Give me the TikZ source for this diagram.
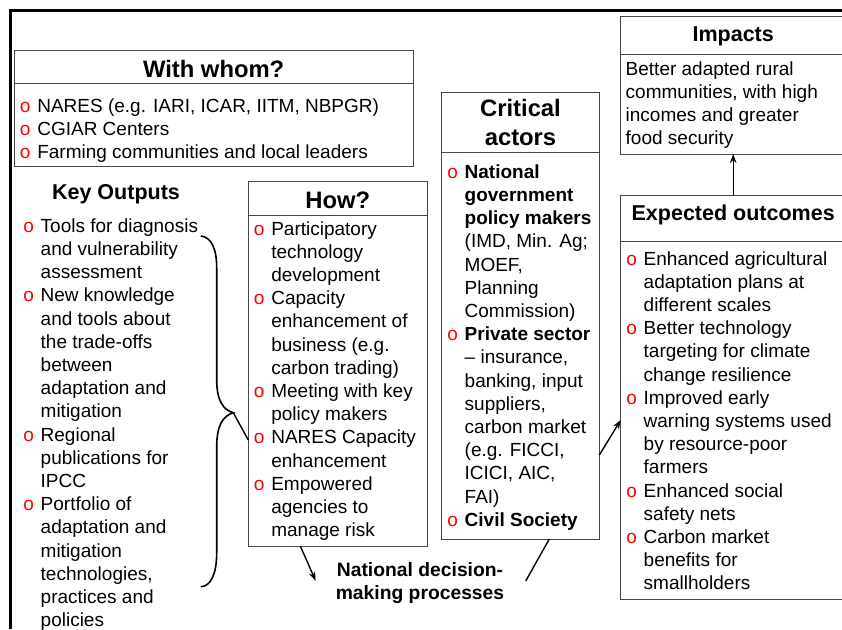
\documentclass[tikz,border=0pt]{standalone}
\usepackage{fontspec}
\setmainfont{Liberation Sans}
\usetikzlibrary{arrows.meta,positioning}

\definecolor{bulletred}{RGB}{255,0,0}
\definecolor{boxgray}{RGB}{70,70,70}
\newcommand{\bodyfont}{\fontsize{19}{23.2}\selectfont}
\newcommand{\oi}[1]{\par\noindent\hangindent=18pt\hangafter=1\strut\makebox[18pt][l]{\hspace{0.6pt}\textcolor{bulletred}{o}}#1\par}
\newcommand{\boxtext}[4]{\parbox[t][#1][t]{#2}{\bodyfont\raggedright\vspace*{#3}#4}}

\begin{document}
\begin{tikzpicture}[x=1pt, y=-1pt,
  boxline/.style={draw=boxgray, line width=0.8pt, inner sep=0pt, outer sep=0pt},
  headbox/.style={boxline, anchor=north west, align=center, font=\fontsize{23.8}{29.3}\selectfont\bfseries},
  bodybox/.style={boxline, anchor=north west, inner xsep=5pt, inner ysep=0pt},
  conn/.style={line width=1.4pt, >={Stealth[length=9pt,width=6.5pt]}}]
\useasboundingbox (0,0) rectangle (842,629);
% Slide frame
\draw[line width=2.3pt] (10.5,629) -- (10.5,10.5) -- (842,10.5);

% With whom?
\node[headbox, minimum width=398.7pt, minimum height=32.6pt, text height=21pt, text depth=0pt] (whomhead) at (14.3,50.7) {With whom?};
\node[bodybox] (whom) at (whomhead.south west) {\boxtext{83.4pt}{388.7pt}{12.5pt}{%
  \oi{NARES (e.g. IARI, ICAR, IITM, NBPGR)}
  \oi{CGIAR Centers}
  \oi{Farming communities and local leaders}}};

% Key Outputs
\node[font=\fontsize{21.5}{26}\selectfont\bfseries, anchor=base] (outputshead) at (116,199) {Key Outputs};
\node[anchor=north west, inner sep=0pt] (outputs) at (22.5,215.8) {\boxtext{410pt}{190pt}{0pt}{%
  \oi{Tools for diagnosis\newline and vulnerability\newline assessment}
  \oi{New knowledge\newline and tools about\newline the trade-offs\newline between\newline adaptation and\newline mitigation}
  \oi{Regional\newline publications for\newline IPCC}
  \oi{Portfolio of\newline adaptation and\newline mitigation\newline technologies,\newline practices and\newline policies}}};

% How?
\node[headbox, minimum width=179pt, minimum height=33.3pt, text height=19.3pt, text depth=0pt] (howhead) at (248.3,181.7) {How?};
\node[bodybox] (how) at (howhead.south west) {\boxtext{331pt}{169pt}{3.8pt}{%
  \oi{Participatory\newline technology\newline development}
  \oi{Capacity\newline enhancement of\newline business (e.g.\newline carbon trading)}
  \oi{Meeting with key\newline policy makers}
  \oi{NARES Capacity\newline enhancement}
  \oi{Empowered\newline agencies to\newline manage risk}}};

% Critical actors
\node[headbox, minimum width=157.6pt, minimum height=60pt] (actorshead) at (441.7,92.7) {Critical\\actors};
\node[bodybox] (actors) at (actorshead.south west) {\boxtext{386.3pt}{147.6pt}{9.4pt}{%
  \oi{\textbf{National\newline government\newline policy makers}\newline (IMD, Min. Ag;\newline MOEF,\newline Planning\newline Commission)}
  \oi{\textbf{Private sector}\newline – insurance,\newline banking, input\newline suppliers,\newline carbon market\newline (e.g. FICCI,\newline ICICI, AIC,\newline FAI)}
  \oi{\textbf{Civil Society}}}};

% Impacts
\node[headbox, minimum width=225pt, minimum height=38pt, font=\fontsize{21.5}{26}\selectfont\bfseries, text height=16pt, text depth=4pt] (impactshead) at (620.7,16) {Impacts};
\node[bodybox] (impacts) at (impactshead.south west) {\boxtext{100pt}{215pt}{4.8pt}{%
  \strut Better adapted rural\newline communities, with high\newline incomes and greater\newline food security}};

% Expected outcomes
\node[headbox, minimum width=225pt, minimum height=46pt, font=\fontsize{21.5}{26}\selectfont\bfseries, text height=16pt, text depth=12pt] (outcomeshead) at (620.7,195) {Expected outcomes};
\node[bodybox] (outcomes) at (outcomeshead.south west) {\boxtext{358pt}{215pt}{7.8pt}{%
  \oi{Enhanced agricultural\newline adaptation plans at\newline different scales}
  \oi{Better technology\newline targeting for climate\newline change resilience}
  \oi{Improved early\newline warning systems used\newline by resource-poor\newline farmers}
  \oi{Enhanced social\newline safety nets}
  \oi{Carbon market\newline benefits for\newline smallholders}}};

% National decision-making
\node[font=\fontsize{19.3}{22.3}\selectfont\bfseries, align=center, inner sep=2pt] (national) at (420,583) {National decision-\\making processes};

% Brace
\coordinate (bracetop) at (200.7,236);
\coordinate (bracetip) at (233.3,412.7);
\coordinate (bracebot) at (200.7,586.7);
\draw[line width=1.6pt] (bracetop) .. controls (211,237) and (216.7,248) .. (216.7,268) -- (216.7,380) .. controls (216.7,400) and (223,410) .. (bracetip) .. controls (223,416) and (216.7,425) .. (216.7,447) -- (216.7,553) .. controls (216.7,575) and (210,586.7) .. (bracebot);
\draw[line width=1.4pt] (bracetip) -- ([yshift=-225pt]how.north west);

% Arrows
\draw[conn, ->] ([xshift=52pt]how.south west) -- ([xshift=-18pt, yshift=2.3pt]national.west);
\draw[conn] ([xshift=28.8pt]actors.south) -- ([xshift=19.3pt, yshift=2pt]national.east);
\draw[conn, ->] ([yshift=-109.2pt]actors.east) -- (outcomes.west);
\draw[conn, ->] (outcomeshead.north) -- (impacts.south);
\end{tikzpicture}
\end{document}
